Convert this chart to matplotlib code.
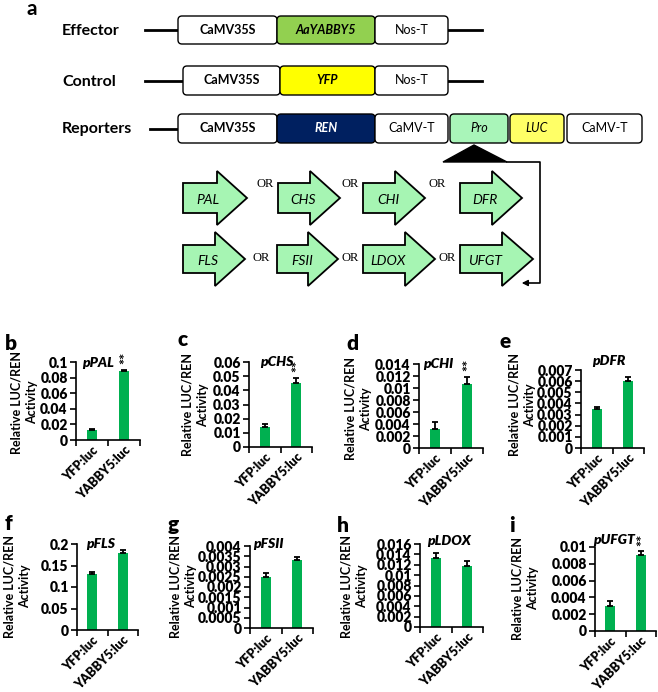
import matplotlib
matplotlib.use('Agg')
import matplotlib.pyplot as plt
from matplotlib.patches import FancyBboxPatch, Polygon

W, H = 658, 692
plt.rcParams['font.family'] = ['Lato', 'DejaVu Sans']

# ---- data ----
promoters = ['pPAL', 'pCHS', 'pCHI', 'pDFR', 'pFLS', 'pFSII', 'pLDOX', 'pUFGT']
panel_letters = ['b', 'c', 'd', 'e', 'f', 'g', 'h', 'i']
groups = ['YFP:luc', 'YABBY5:luc']
yfp_mean = [0.013, 0.014, 0.0032, 0.0035, 0.130, 0.0025, 0.0133, 0.0030]
yfp_err = [0.001, 0.002, 0.0011, 0.0002, 0.005, 0.0002, 0.0010, 0.0006]
yabby_mean = [0.089, 0.045, 0.0107, 0.0060, 0.179, 0.0033, 0.0117, 0.0091]
yabby_err = [0.001, 0.004, 0.0012, 0.0004, 0.006, 0.00015, 0.0010, 0.0004]
y_max = [0.1, 0.06, 0.014, 0.007, 0.2, 0.004, 0.016, 0.01]
y_step = [0.02, 0.01, 0.002, 0.001, 0.05, 0.0005, 0.002, 0.002]
significant = [True, True, True, False, False, False, False, True]

constructs = ['Effector', 'Control', 'Reporters']
effector_parts = ['CaMV35S', 'AaYABBY5', 'Nos-T']
control_parts = ['CaMV35S', 'YFP', 'Nos-T']
reporter_parts = ['CaMV35S', 'REN', 'CaMV-T', 'Pro', 'LUC', 'CaMV-T']
genes_row1 = ['PAL', 'CHS', 'CHI', 'DFR']
genes_row2 = ['FLS', 'FSII', 'LDOX', 'UFGT']

bar_green = '#00b050'

fig = plt.figure(figsize=(W / 100, H / 100), dpi=100)
ov = fig.add_axes([0, 0, 1, 1])
ov.set_xlim(0, W)
ov.set_ylim(H, 0)
ov.axis('off')

# ---- panel a: constructs ----
ov.text(32, 9, 'a', fontsize=15, fontweight='bold', ha='center', va='center')


def part_box(x0, x1, y0, y1, label, fc, tc='black', weight='bold', style='normal'):
    ov.add_patch(FancyBboxPatch((x0, y0), x1 - x0, y1 - y0,
                                boxstyle='round,pad=0,rounding_size=4',
                                fc=fc, ec='black', lw=1, zorder=3))
    ov.text((x0 + x1) / 2, (y0 + y1) / 2, label, ha='center', va='center',
            fontsize=9, color=tc, fontweight=weight, fontstyle=style, zorder=4)


rows_y = [(16, 44), (66, 95), (114, 143)]
for name, (y0, y1) in zip(constructs, rows_y):
    ov.text(62, (y0 + y1) / 2 + 1, name, fontsize=11.5, fontweight='bold', ha='left', va='center')

# effector
y0, y1 = rows_y[0]
ov.plot([145, 482], [(y0 + y1) / 2] * 2, color='black', lw=2, zorder=1)
part_box(178, 277, y0, y1, effector_parts[0], 'white')
part_box(277, 375, y0, y1, effector_parts[1], '#92d050', style='italic')
part_box(375, 448, y0, y1, effector_parts[2], 'white', weight='normal')
# control
y0, y1 = rows_y[1]
ov.plot([145, 482], [(y0 + y1) / 2] * 2, color='black', lw=2, zorder=1)
part_box(183, 280, y0, y1, control_parts[0], 'white')
part_box(280, 375, y0, y1, control_parts[1], '#ffff00', style='italic')
part_box(375, 448, y0, y1, control_parts[2], 'white', weight='normal')
# reporters
y0, y1 = rows_y[2]
ov.plot([150, 180], [(y0 + y1) / 2] * 2, color='black', lw=2, zorder=1)
part_box(178, 277, y0, y1, reporter_parts[0], 'white')
part_box(277, 375, y0, y1, reporter_parts[1], '#002060', tc='white', style='italic')
part_box(375, 448, y0, y1, reporter_parts[2], 'white', weight='normal')
part_box(450, 508, y0, y1, reporter_parts[3], '#a9f5b9', weight='normal', style='italic')
part_box(510, 564, y0, y1, reporter_parts[4], '#ffff66', weight='normal', style='italic')
part_box(567, 642, y0, y1, reporter_parts[5], 'white', weight='normal')

# triangle + connector
ov.add_patch(Polygon([(443, 162), (507, 162), (474, 145)], closed=True, fc='black', ec='black'))
ov.plot([507, 540, 540, 526], [161.5, 161.5, 283, 283], color='black', lw=1.2)
ov.annotate('', xy=(519, 283), xytext=(528, 283),
            arrowprops=dict(arrowstyle='-|>', color='black', lw=1, mutation_scale=9))


def block_arrow(x0, xh, x1, cy, label, bh, hh):
    pts = [(x0, cy - bh), (xh, cy - bh), (xh, cy - hh), (x1, cy),
           (xh, cy + hh), (xh, cy + bh), (x0, cy + bh)]
    ov.add_patch(Polygon(pts, closed=True, fc='#a6f5b3', ec='black', lw=1.3))
    ov.text(x0 + 25, cy + 2, label, ha='center', va='center', fontsize=10, fontstyle='italic')


arrows_row1 = [(183, 217, 247), (278, 310, 340), (363, 395, 425), (460, 492, 522)]
arrows_row2 = [(183, 215, 245), (277, 308, 338), (363, 405, 435), (460, 502, 533)]
for (x0, xh, x1), g in zip(arrows_row1, genes_row1):
    block_arrow(x0, xh, x1, 198, g, 15, 27)
for (x0, xh, x1), g in zip(arrows_row2, genes_row2):
    block_arrow(x0, xh, x1, 259, g, 14, 27)
for x in [265, 350, 437]:
    ov.text(x, 184, 'OR', fontsize=9, family='Liberation Serif', ha='center', va='center')
for x in [261, 350, 447]:
    ov.text(x, 258, 'OR', fontsize=9, family='Liberation Serif', ha='center', va='center')

# ---- bar panels b-i ----
axes_px = [(76, 362, 140, 440), (249, 362, 312, 447), (419, 364, 483, 448), (581, 370, 644, 448),
           (77, 544, 138, 630), (250, 546, 313, 628), (420, 544, 483, 627), (595, 547, 656, 631)]
title_px = [(98, 363), (277, 362), (438, 364), (609, 361),
            (101, 544), (268, 544), (449, 541), (614, 540)]
letter_px = [(11, 343), (183, 340), (352, 344), (505, 341),
             (8, 523), (173, 525), (343, 525), (512, 525)]
ylabel_px = [(24, 402), (195, 405), (358, 409), (522, 405),
             (17, 586), (183, 586), (354, 586), (525, 588)]

for k in range(len(promoters)):
    l, t, r, b = axes_px[k]
    ax = fig.add_axes([l / W, 1 - b / H, (r - l) / W, (b - t) / H])
    ax.patch.set_alpha(0)
    means = [yfp_mean[k], yabby_mean[k]]
    errs = [yfp_err[k], yabby_err[k]]
    ax.bar([0, 1], means, width=0.32, color=bar_green,
           yerr=[[0, 0], errs], capsize=2.5,
           error_kw=dict(ecolor='black', elinewidth=1.3, capthick=1.3))
    ax.set_xlim(-0.5, 1.5)
    ax.set_ylim(0, y_max[k])
    n = int(round(y_max[k] / y_step[k]))
    ticks = [round(i * y_step[k], 6) for i in range(n + 1)]
    ax.set_yticks(ticks)
    ax.set_yticklabels([f'{v:g}' for v in ticks], fontsize=10, fontweight='heavy')
    ax.set_xticks([0, 1])
    ax.set_xticklabels(groups, rotation=45, ha='right', rotation_mode='anchor',
                       fontsize=9, fontweight='heavy')
    ax.set_xticks([-0.5, 0.5, 1.5], minor=True)
    ax.tick_params(axis='x', which='major', length=0, pad=3)
    ax.tick_params(axis='x', which='minor', length=4, width=1.2)
    ax.tick_params(axis='y', length=4, width=1.2, pad=2)
    for side in ['top', 'right']:
        ax.spines[side].set_visible(False)
    for side in ['left', 'bottom']:
        ax.spines[side].set_linewidth(1.2)
    if significant[k]:
        ax.annotate('**', (1, yabby_mean[k] + yabby_err[k]), xytext=(1.5, 4),
                    textcoords='offset points', rotation=90, ha='center', va='bottom',
                    fontsize=10.5, fontweight='bold', annotation_clip=False)
    tx, ty = title_px[k]
    ov.text(tx, ty, promoters[k], ha='center', va='center', fontsize=10,
            fontweight='heavy', fontstyle='italic')
    lx, ly = letter_px[k]
    ov.text(lx, ly, panel_letters[k], ha='center', va='center', fontsize=15, fontweight='heavy')
    yx, yy = ylabel_px[k]
    ov.text(yx, yy, 'Relative LUC/REN\nActivity', rotation=90, ha='center', va='center',
            multialignment='center', fontsize=9, fontweight='bold', linespacing=1.35)

fig.savefig('out.png', dpi=100)
